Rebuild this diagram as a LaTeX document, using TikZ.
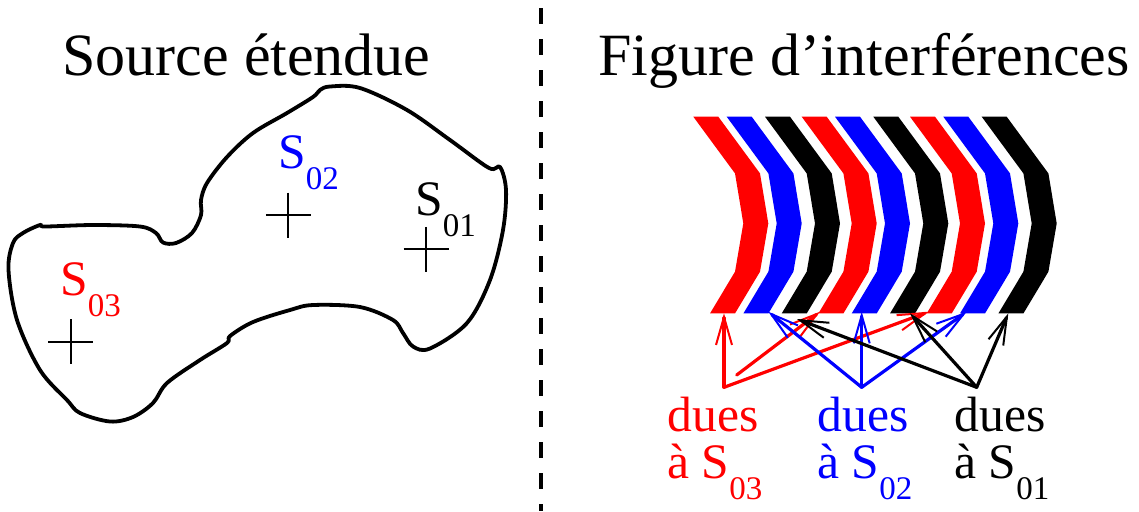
\documentclass[tikz,border=0pt]{standalone}
\usepackage{fontspec}
\setmainfont{Liberation Serif}
\usetikzlibrary{arrows.meta}
\definecolor{fred}{RGB}{255,0,0}
\definecolor{fblue}{RGB}{0,0,255}

% S with a lowered index
\newcommand{\Sidx}[1]{S\raisebox{-10.8pt}{\fontsize{16.5pt}{16.5pt}\selectfont #1}}
% one chevron-shaped fringe, #1 = left x of its top edge, #2 = colour
\newcommand{\fringeband}[2]{%
  \fill[#2] (#1,116.7) -- ++(41.7,56.7) -- ++(8.3,50) -- ++(-8.3,48.3) -- ++(-25,41.7)
    -- ++(25,0) -- ++(25,-41.7) -- ++(8.3,-48.3) -- ++(-8.3,-50) -- ++(-41.7,-56.7) -- cycle;}

\begin{document}
\begin{tikzpicture}[x=0.5pt,y=-0.5pt,
  outline/.style={line width=1.9pt, line join=round},
  crossmark/.style={line width=0.9pt},
  title/.style={font=\fontsize{30pt}{36pt}\selectfont, inner sep=0pt, anchor=base west},
  lbl/.style={font=\fontsize{24.8pt}{28pt}\selectfont, inner sep=0pt, anchor=base west},
  ray/.style={line width=1.6pt, line cap=round,
    -{Straight Barb[length=14pt,width=8pt,line width=1pt]}},
  separator/.style={line width=1.9pt, dash pattern=on 7.75pt off 7.75pt}]
\useasboundingbox (0,0) rectangle (1139,511);

% separator between the two halves
\coordinate (sepTop) at (540.7,8.3);
\coordinate (sepBot) at (540.7,511);
\draw[separator] (sepTop) -- (sepBot);

% titles
\node[title] (tLeft) at (62,75) {Source étendue};
\node[title] (tRight) at (598,75) {Figure d’interférences};

% extended source outline
\draw[outline] plot[smooth cycle, tension=0.55] coordinates {
  (45,226.5) (93,225) (140,226.5) (156,233) (163,242.5) (176,243) (192,233)
  (201,215) (201,200) (207,183) (227,157) (253,133) (287,113) (313,97)
  (320,90) (330,86.5) (360,88) (407,110) (450,140) (489,168) (500,167)
  (506,190) (503,230) (490,280) (467,323) (430,348.5) (413,346.5) (403,333)
  (393,320) (360,307) (313,305) (290,310) (253,322) (230,336) (227,343)
  (200,360) (167,383) (153,403) (133,417) (110,421.5) (80,413) (67,400)
  (40,370) (17,320) (8.5,270) (13,243) (23,233) (40,225)};

% point sources
\coordinate (c3) at (70.7,341.7);
\coordinate (c2) at (288.3,215);
\coordinate (c1) at (426,249.3);
\foreach \c in {c1,c2,c3}{
  \draw[crossmark] ([xshift=-11.25pt]\c) -- ([xshift=11.25pt]\c)
                   ([yshift=11.25pt]\c) -- ([yshift=-11.25pt]\c);
}
\node[lbl, text=fred]  (s3) at (60,295)  {\Sidx{03}};
\node[lbl, text=fblue] (s2) at (278,168.3) {\Sidx{02}};
\node[lbl]             (s1) at (415,215) {\Sidx{01}};

% fringes
\fringeband{693.3}{fred}
\fringeband{726.7}{fblue}
\fringeband{765}{black}
\fringeband{801.7}{fred}
\fringeband{835}{fblue}
\fringeband{873.3}{black}
\fringeband{910}{fred}
\fringeband{943.3}{fblue}
\fringeband{981.7}{black}

% arrow origins and targets
\coordinate (rv) at (724,387.3);
\coordinate (rs) at (736.7,375);
\coordinate (r1) at (724,313.3);
\coordinate (r2) at (820,311.7);
\coordinate (r3) at (929,311.7);
\coordinate (bv) at (861.7,387.3);
\coordinate (b1) at (768.3,311.7);
\coordinate (b2) at (861.7,311.7);
\coordinate (b3) at (966.7,311.7);
\coordinate (kv) at (976.7,387.3);
\coordinate (k1) at (797,319);
\coordinate (k2) at (910,313.3);
\coordinate (k3) at (1008.3,313.3);

\draw[ray, fred] (rv) -- (r1);
\draw[ray, fred] (rs) -- (r2);
\draw[ray, fred] (rv) -- (r3);
\draw[ray, fblue] (bv) -- (b1);
\draw[ray, fblue] (bv) -- (b2);
\draw[ray, fblue] (bv) -- (b3);
\draw[ray] (kv) -- (k1);
\draw[ray] (kv) -- (k2);
\draw[ray] (kv) -- (k3);

% captions
\node[lbl, text=fred]  (d3) at (667,431.7) {dues};
\node[lbl, text=fred]  (a3) at (667,478.3) {à \Sidx{03}};
\node[lbl, text=fblue] (d2) at (817,431.7) {dues};
\node[lbl, text=fblue] (a2) at (817,478.3) {à \Sidx{02}};
\node[lbl]             (d1) at (954,431.7) {dues};
\node[lbl]             (a1) at (954,478.3) {à \Sidx{01}};
\end{tikzpicture}
\end{document}
